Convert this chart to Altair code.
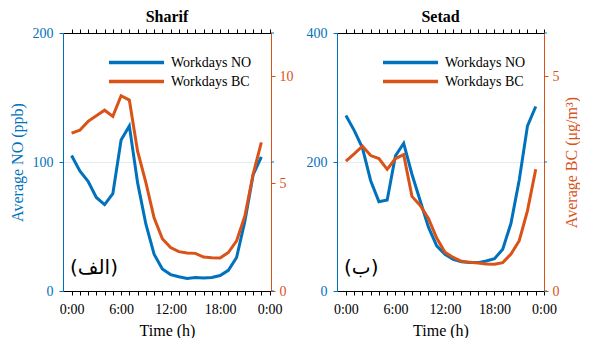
import altair as alt
import pandas as pd

hours = list(range(24))
sharif_no = [105, 93, 85, 72.5, 67, 75.5, 117, 128, 84, 52, 28.5, 17, 12.7, 11, 9.7, 10.5, 10.1, 10.5, 12, 16, 26, 54, 90, 104]
sharif_bc = [7.34, 7.48, 7.89, 8.15, 8.41, 8.12, 9.08, 8.88, 6.5, 5.05, 3.4, 2.43, 2.02, 1.83, 1.77, 1.75, 1.58, 1.55, 1.54, 1.79, 2.33, 3.49, 5.43, 6.91]
setad_no = [272, 249, 222, 171, 138.5, 141, 209.6, 229, 181, 140, 99, 70, 57, 49, 45.5, 44, 44, 46.5, 50, 64.7, 105, 172, 256, 286]
setad_bc = [3.02, 3.19, 3.37, 3.15, 3.08, 2.83, 3.08, 3.17, 2.2, 1.99, 1.69, 1.23, 0.9, 0.78, 0.69, 0.67, 0.65, 0.63, 0.62, 0.66, 0.86, 1.17, 1.87, 2.83]
series = ["Workdays NO", "Workdays BC"]
hour_ticks = list(range(25))

BLUE = "#0072BD"
ORANGE = "#D95319"
FONT = "Liberation Serif"
H = 258


def panel(title, no, bc, xdom, no_dom, no_ticks, bc_dom, bc_ticks, tag,
          left_title, right_title, width):
    df = pd.DataFrame({"hour": hours, "NO": no, "BC": bc})
    cscale = alt.Scale(domain=series, range=[BLUE, ORANGE])
    leg = alt.Legend(orient="none", legendX=66, legendY=22, title=None,
                     symbolType="M-5,0L5,0", symbolSize=121, symbolStrokeWidth=3.5,
                     labelFont=FONT, labelFontSize=14, labelColor="black",
                     rowPadding=4, labelOffset=27, padding=0)
    xscale = alt.Scale(domain=xdom, nice=False, zero=False)
    xaxis_bottom = alt.Axis(values=hour_ticks, labelExpr="datum.value % 6 == 0 ? (datum.value % 24) + ':00' : ''",
                            tickSize=4, domainColor="black", tickColor="black", labelColor="black",
                            labelFont=FONT, labelFontSize=14, labelAngle=0, labelPadding=7,
                            labelOverlap=False, labelFlush=False, grid=False,
                            title="Time (h)", titleFont=FONT, titleFontSize=16,
                            titleFontWeight="normal", titleColor="black", titlePadding=6)
    xaxis_top = alt.Axis(orient="top", values=hour_ticks, labels=False, title=None, tickSize=4,
                         domainColor="black", tickColor="black", grid=False)
    yaxis_no = alt.Axis(orient="left", values=no_ticks, tickSize=4, domainColor=BLUE, tickColor=BLUE,
                        labelColor=BLUE, labelFont=FONT, labelFontSize=14, labelPadding=6,
                        grid=True, gridColor="#e2ebf3", gridWidth=1,
                        title=left_title, titleFont=FONT, titleFontSize=16, titleFontWeight="normal",
                        titleColor=BLUE, titlePadding=7)
    yaxis_bc = alt.Axis(orient="right", values=bc_ticks, tickSize=4, domainColor=ORANGE, tickColor=ORANGE,
                        labelColor=ORANGE, labelFont=FONT, labelFontSize=14, labelPadding=4,
                        grid=False, title=right_title, titleFont=FONT, titleFontSize=16,
                        titleFontWeight="normal", titleColor=ORANGE, titleAngle=270,
                        titleBaseline="top", titlePadding=4)

    base = alt.Chart(df)
    no_line = base.transform_calculate(lab="'Workdays NO'").mark_line(strokeWidth=3).encode(
        x=alt.X("hour:Q", scale=xscale, axis=xaxis_bottom),
        y=alt.Y("NO:Q", scale=alt.Scale(domain=no_dom, nice=False), axis=yaxis_no),
        color=alt.Color("lab:N", scale=cscale, legend=leg),
    )
    tick_df = pd.DataFrame({"NO": no_ticks})
    right_ticks = alt.Chart(tick_df).mark_rule(color=BLUE, strokeWidth=1).encode(
        y=alt.Y("NO:Q", scale=alt.Scale(domain=no_dom, nice=False), axis=yaxis_no),
        x=alt.value(width), x2=alt.value(width + 3),
    )
    bc_line = base.transform_calculate(lab="'Workdays BC'").mark_line(strokeWidth=3).encode(
        x=alt.X("hour:Q", scale=xscale, axis=xaxis_top),
        y=alt.Y("BC:Q", scale=alt.Scale(domain=bc_dom, nice=False), axis=yaxis_bc),
        color=alt.Color("lab:N", scale=cscale, legend=leg),
    )
    tag_text = alt.Chart(pd.DataFrame({"t": [tag]})).mark_text(
        font="DejaVu Sans", fontSize=20, align="left", baseline="alphabetic", color="black"
    ).encode(text="t:N", x=alt.value(7), y=alt.value(241))

    no_part = alt.layer(no_line, right_ticks)
    return alt.layer(no_part, bc_line, tag_text).resolve_scale(y="independent").resolve_axis(
        x="independent").properties(
        width=width, height=H,
        title=alt.TitleParams(title, font=FONT, fontSize=16, fontWeight="bold", color="black",
                              anchor="middle", offset=1),
    )


p1 = panel("Sharif", sharif_no, sharif_bc, [-1.04, 24.17], [0, 200], [0, 100, 200], [0, 12], [0, 5, 10],
           "(الف)", "Average NO (ppb)", None, 208)
p2 = panel("Setad", setad_no, setad_bc, [-1.08, 24.0], [0, 400], [0, 200, 400], [0, 6], [0, 5],
           "(ب)", None, "Average BC (μg/m³)", 207)

chart = alt.hconcat(p1, p2, spacing=11).resolve_legend(color="independent").configure_view(
    stroke=None).configure_legend(labelFont=FONT, labelFontSize=14).configure(
    font=FONT, padding={"left": 0, "top": 0, "right": 0, "bottom": 0})

chart.save("out.html", embed_options={"renderer": "svg", "actions": False})
